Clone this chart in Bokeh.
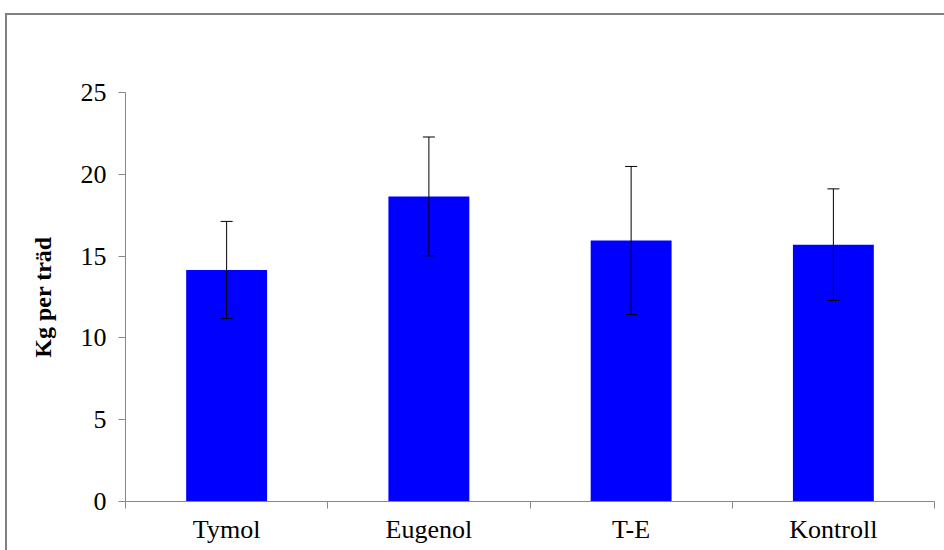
from bokeh.plotting import figure
from bokeh.models import ColumnDataSource, Whisker, TeeHead, FixedTicker
from bokeh.embed import file_html
from bokeh.resources import INLINE

categories = ["Tymol", "Eugenol", "T-E", "Kontroll"]
means = [14.15, 18.65, 15.95, 15.70]
errors = [2.97, 3.63, 4.53, 3.41]
y_ticks = [0, 5, 10, 15, 20, 25]

xs = [i + 0.5 for i in range(len(categories))]
src = ColumnDataSource(dict(
    x=xs, top=means,
    upper=[m + e for m, e in zip(means, errors)],
    lower=[m - e for m, e in zip(means, errors)],
))

p = figure(width=944, height=550, output_backend="svg", toolbar_location=None,
           x_range=(0, len(categories)), y_range=(0, 25),
           min_border_left=125, min_border_right=10, min_border_top=92, min_border_bottom=49)

p.border_fill_color = None
p.background_fill_color = None
p.styles = {
    "background": "linear-gradient(#808080,#808080) 5px 13px / 2px 100% no-repeat, "
                  "linear-gradient(#808080,#808080) 5px 13px / 100% 2px no-repeat, white"
}

p.vbar(x="x", top="top", bottom=0, width=0.4, source=src,
       fill_color="#0000FF", line_color=None)

w = Whisker(base="x", upper="upper", lower="lower", source=src, dimension="height",
            line_color="black", line_width=1, level="overlay",
            upper_head=TeeHead(size=12, line_color="black", line_width=1),
            lower_head=TeeHead(size=12, line_color="black", line_width=1))
p.add_layout(w)

font = "Liberation Serif"
gray = "#888888"

p.xgrid.visible = False
p.ygrid.visible = False
p.outline_line_color = None

xa = p.xaxis[0]
xa.ticker = FixedTicker(ticks=xs, minor_ticks=list(range(len(categories) + 1)))
xa.major_label_overrides = {x: c for x, c in zip(xs, categories)}
xa.major_tick_line_color = None
xa.minor_tick_line_color = gray
xa.minor_tick_in = 0
xa.minor_tick_out = 7
xa.axis_line_color = gray
xa.major_label_text_font = font
xa.major_label_text_font_size = "26px"
xa.major_label_text_color = "black"
xa.major_label_standoff = 6

ya = p.yaxis[0]
ya.ticker = FixedTicker(ticks=y_ticks, minor_ticks=[])
ya.major_tick_line_color = gray
ya.major_tick_in = 0
ya.major_tick_out = 7
ya.axis_line_color = gray
ya.major_label_text_font = font
ya.major_label_text_font_size = "26px"
ya.major_label_text_color = "black"
ya.major_label_standoff = 12
ya.axis_label = "Kg per träd"
ya.axis_label_text_font = font
ya.axis_label_text_font_size = "24px"
ya.axis_label_text_font_style = "bold"
ya.axis_label_text_color = "black"
ya.axis_label_standoff = 22

open("out.html", "w").write(file_html(p, INLINE))
